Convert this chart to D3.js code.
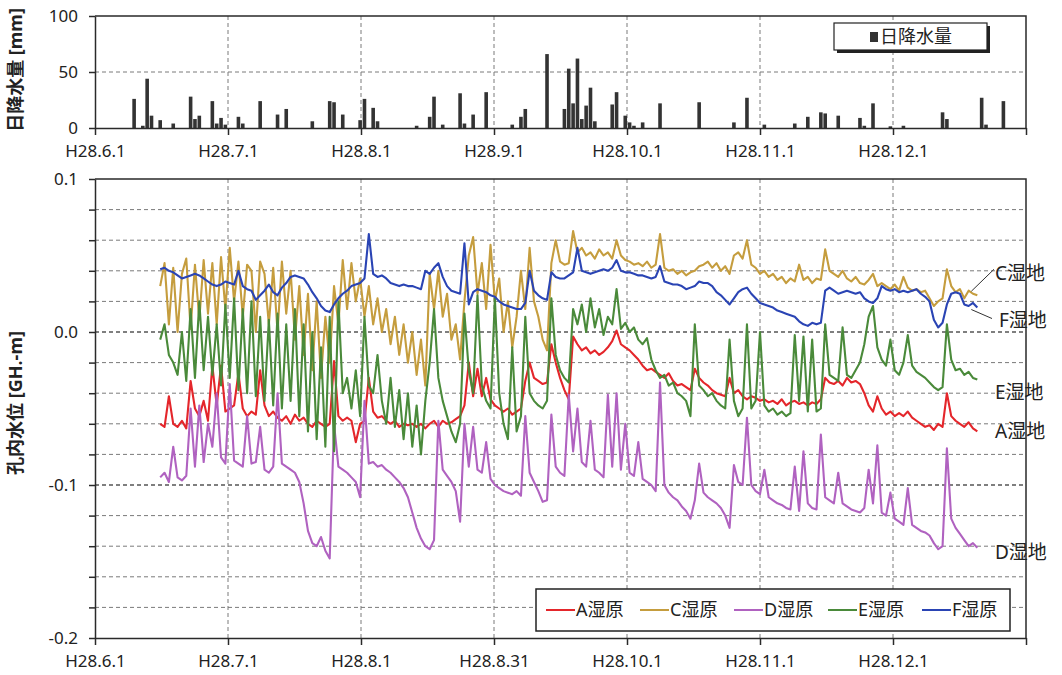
<!DOCTYPE html>
<html>
<head>
<meta charset="utf-8">
<script src="https://cdn.jsdelivr.net/npm/d3@7"></script>
<style>
body { margin: 0; background: #fff; }
text { font-family: "Noto Sans", "Noto Sans CJK JP", sans-serif; fill: #222; }
</style>
</head>
<body>
<svg id="chart" width="1062" height="675"></svg>
<script>
// 日降水量 [mm] (H28 = 2016)
const rainDates = ['6/10','6/12','6/13','6/14','6/16','6/19','6/23','6/24','6/25','6/28','6/29','6/30','7/1','7/4','7/5','7/9','7/13','7/15','7/21','7/25','7/26','7/28',
  '8/1','8/2','8/4','8/5','8/14','8/17','8/18','8/20','8/24','8/25','8/27','8/30','9/5','9/7','9/8','9/13','9/17','9/18','9/19','9/20','9/21','9/22','9/23','9/24','9/28','9/29',
  '10/1','10/2','10/3','10/5','10/9','10/18','10/26','10/29','11/2','11/9','11/12','11/15','11/16','11/19','11/24','11/25','11/27','12/1','12/4','12/13','12/14','12/22','12/23','12/27']
const rainMm = [26,2,44,11,7,4,28,8,11,24,4,9,3,10,4,24,12,17,6,24,23,12,
  7,26,18,6,2,10,28,3,31,4,12,32,3,10,17,66,17,53,22,62,8,20,36,6,21,32,
  11,5,2,5,22,23,5,27,3,4,10,14,13,11,9,2,22,1.5,2,14,8,27,3,24]

// 孔内水位 [mm, GH.-m x1000], daily from 6/16
const levelStart = '6/16'
const levelA = [-60,-62,-42,-60,-62,-58,-63,-32,-50,-55,
  -45,-58,-22,-48,-22,-52,-50,-48,-27,-50,
  -55,-52,-54,-25,-48,-55,-52,-56,-58,-55,
  -60,-54,-58,-56,-60,-62,-58,-60,-62,-60,
  -19,-55,-58,-56,-58,-72,-60,-58,-30,-52,
  -56,-55,-58,-60,-58,-62,-60,-61,-60,-62,
  -60,-63,
  -60,-58,-62,-58,-60,-59,-57,-55,-48,-20,
  -42,-24,-42,-30,-44,-48,-50,-52,-50,-54,
  -52,-50,-32,-20,-30,-32,-34,-33,-8,-20,
  -30,-38,-44,-3,-8,-12,-10,-14,-12,-15,
  -13,-10,-6,1,-8,-10,-12,-15,-18,-22,
  -25,-24,-26,-28,-30,-27,-32,-35,-34,-36,
  -38,-24,-30,-33,
  -35,-38,-40,-41,-42,-30,-40,-38,-42,-44,
  -42,-43,-45,-44,-46,-45,-47,-44,-48,-46,
  -45,-47,-46,-48,-46,-47,-44,-30,-33,-34,
  -32,-35,-30,-33,-32,-34,-40,-48,-52,-42,
  -50,-54,-52,-55,-53,-55,-52,-56,-58,-60,
  -62,-61,-64,-60,-62,-40,-55,-58,-60,-62,
  -59,-63,-65]
const levelC = [30,45,5,42,0,38,48,2,44,8,
  47,12,45,5,49,15,55,20,46,10,
  44,40,0,46,38,5,42,0,46,12,
  40,-5,30,-15,25,-25,20,-30,10,-20,
  30,5,47,15,45,20,35,10,30,5,
  22,0,15,-8,10,-15,5,-20,0,-28,
  -5,-35,
  38,15,40,10,25,-5,5,-18,20,50,
  62,25,45,15,57,20,35,0,20,-10,
  10,40,15,55,20,10,-5,-12,45,60,
  46,44,45,66,52,55,50,52,48,54,
  50,52,48,60,50,47,46,44,45,43,
  46,42,44,64,42,40,41,38,40,37,
  39,40,43,44,
  46,42,45,40,43,38,50,52,48,60,
  44,42,38,40,36,38,34,36,32,35,
  33,44,34,36,32,35,34,54,40,38,
  36,40,35,33,36,32,31,34,38,30,
  32,30,28,31,27,36,29,27,28,26,
  27,22,17,20,22,41,30,26,28,22,
  27,25,24]
const levelD = [-95,-92,-98,-75,-95,-97,-94,-50,-88,-48,
  -85,-60,-75,-40,-82,-86,-34,-84,-86,-88,
  -55,-86,-85,-62,-90,-92,-88,-40,-86,-88,
  -90,-92,-98,-112,-130,-138,-140,-134,-143,-148,
  -60,-88,-90,-92,-95,-98,-108,-45,-86,-85,
  -88,-87,-90,-92,-95,-98,-102,-108,-118,-128,
  -135,-140,
  -142,-136,-58,-90,-94,-98,-104,-124,-60,-88,
  -62,-90,-92,-72,-96,-100,-102,-104,-105,-106,
  -104,-107,-55,-92,-98,-104,-111,-110,-54,-88,
  -92,-94,-41,-78,-50,-85,-88,-58,-90,-92,
  -95,-41,-88,-40,-90,-60,-92,-94,-72,-96,
  -98,-100,-104,-33,-100,-105,-108,-110,-114,-117,
  -122,-110,-86,-105,
  -108,-110,-112,-115,-120,-128,-87,-98,-100,-56,
  -100,-104,-106,-90,-108,-110,-112,-113,-115,-116,
  -88,-117,-78,-112,-115,-116,-67,-108,-110,-112,
  -92,-112,-114,-116,-117,-118,-115,-90,-112,-74,
  -118,-120,-105,-122,-124,-126,-102,-126,-128,-130,
  -131,-133,-138,-142,-140,-76,-122,-128,-132,-136,
  -140,-138,-141]
const levelE = [-5,5,-15,-20,-28,0,-32,15,-30,20,
  -25,10,-28,5,-35,18,-30,22,-38,15,
  -40,20,-42,10,-45,8,-48,12,-50,5,
  -45,15,-55,5,-65,0,-70,-10,-75,10,
  -78,20,-40,-30,-50,-25,-55,10,-35,-40,
  -15,-45,-60,-30,-62,-38,-70,-40,-75,-48,
  -80,-45,
  -20,15,-30,-45,-55,-65,-72,-60,12,-25,
  -40,24,-35,-45,-50,22,-40,-60,-70,-10,
  -65,-55,10,-40,-45,-48,-50,-45,22,-15,
  -25,-30,-33,15,5,18,0,22,3,15,
  -2,10,5,28,2,6,0,3,-5,-8,
  -4,-18,-25,-30,-28,-35,-33,-40,-42,-45,
  -55,5,-35,-38,
  -42,-40,-45,-48,-50,-5,-45,-55,-50,5,
  -50,-45,0,-48,-52,-50,-54,-52,-55,-53,
  -2,-45,-3,-52,-5,-52,-50,5,-28,-30,
  -32,3,-28,-30,-25,-20,-8,10,17,-10,
  -18,-22,-5,-25,-28,-20,-2,-22,-26,-28,
  -30,-33,-36,-38,-36,5,-18,-25,-24,-28,
  -26,-30,-31]
const levelF = [41,42,40,39,37,35,36,37,38,37,
  35,33,31,30,31,33,32,31,40,30,
  28,27,21,24,27,31,26,24,29,32,
  36,37,36,35,31,26,22,17,14,13,
  18,22,25,27,30,31,32,35,64,38,
  36,37,35,32,31,30,31,30,30,29,
  28,40,
  38,42,45,36,30,27,26,25,58,18,
  26,28,27,26,24,23,20,18,17,16,
  15,15,19,40,27,24,22,21,39,36,
  35,35,37,39,55,40,39,38,39,40,
  41,40,42,47,40,39,39,38,37,37,
  36,35,36,43,33,32,31,31,30,28,
  29,30,33,32,
  32,30,26,24,21,18,22,26,28,29,
  25,22,19,18,17,16,14,13,12,11,
  10,7,5,4,6,5,6,27,29,27,
  25,26,27,26,25,26,22,20,19,22,
  30,28,27,28,26,27,26,27,28,25,
  23,20,8,3,6,18,25,26,25,18,
  17,19,16]

const legendNames = ['A湿原','C湿原','D湿原','E湿原','F湿原']
const endNames = ['A湿地','C湿地','D湿地','E湿地','F湿地']
const colors = ['#e4262b','#c59d3e','#b062c0','#4a8a3a','#2a44b4']
const xLabelsTop = ['H28.6.1','H28.7.1','H28.8.1','H28.9.1','H28.10.1','H28.11.1','H28.12.1']
const xLabelsMain = ['H28.6.1','H28.7.1','H28.8.1','H28.8.31','H28.10.1','H28.11.1','H28.12.1']
const yTicksRain = [0, 50, 100]
const yLabelsLevel = ['-0.2','-0.1','0.0','0.1']

const svg = d3.select('#chart')
const origin = new Date(2016, 5, 1)
const dayOf = s => { const [m, d] = s.split('/').map(Number); return d3.timeDay.count(origin, new Date(2016, m - 1, d)) }

// Excelっぽい日付軸：主目盛 30.6日間隔
const major = 30.6, xMax = 7 * major
const xTicks = d3.range(0, 7).map(k => k * major)
const left = 95, right = 1026

const x = d3.scaleLinear().domain([0, xMax]).range([left, right])
const yRain = d3.scaleLinear().domain([0, 100]).range([128, 16])
const yLev = d3.scaleLinear().domain([-0.2, 0.1]).range([638, 179])

const gridColor = '#7a7a7a', axisColor = '#2a2a2a'

// ---------- 上段：日降水量 ----------
const upper = svg.append('g')
upper.selectAll('.vg').data(xTicks.slice(1)).join('line')
	.attr('x1', d => x(d)).attr('x2', d => x(d)).attr('y1', yRain(100)).attr('y2', yRain(0))
	.attr('stroke', gridColor).attr('stroke-dasharray', '4,3')
upper.append('line').attr('x1', left).attr('x2', right).attr('y1', yRain(50)).attr('y2', yRain(50))
	.attr('stroke', gridColor).attr('stroke-dasharray', '4,3')

upper.selectAll('.bar').data(rainDates).join('rect')
	.attr('x', (d, i) => x(dayOf(d)) - 1.8).attr('width', 3.6)
	.attr('y', (d, i) => yRain(rainMm[i])).attr('height', (d, i) => yRain(0) - yRain(rainMm[i]))
	.attr('fill', '#333')

upper.append('path').attr('d', `M${left},${yRain(100)}H${right}V${yRain(0)}`)
	.attr('fill', 'none').attr('stroke', axisColor).attr('stroke-width', 1.5)

const gxTop = upper.append('g').attr('transform', `translate(0,${yRain(0)})`)
	.call(d3.axisBottom(x).tickValues(xTicks.concat([xMax])).tickSize(7).tickSizeOuter(0).tickPadding(10)
		.tickFormat((d, i) => xLabelsTop[i] || ''))
const gyTop = upper.append('g').attr('transform', `translate(${left},0)`)
	.call(d3.axisLeft(yRain).tickValues(yTicksRain).tickSize(6).tickSizeOuter(0).tickPadding(11))

// 凡例（上段）
const lg1 = upper.append('g').attr('transform', 'translate(834,23)')
lg1.append('rect').attr('x', 3).attr('y', 3).attr('width', 153).attr('height', 27).attr('fill', '#222')
lg1.append('rect').attr('width', 153).attr('height', 27).attr('fill', '#fff').attr('stroke', '#222').attr('stroke-width', 1.2)
lg1.append('rect').attr('x', 36).attr('y', 9).attr('width', 8).attr('height', 10).attr('fill', '#333')
lg1.append('text').attr('x', 46).attr('y', 19.5).attr('font-size', 18).text('日降水量')

// ---------- 下段：孔内水位 ----------
const lower = svg.append('g')
const yGrid = d3.range(-10, 6).map(k => k * 0.02)
const isMajor = d => Math.abs(Math.round(d * 10) - d * 10) < 1e-6
lower.selectAll('.hg').data(yGrid.slice(1, -1)).join('line')
	.attr('x1', left).attr('x2', right).attr('y1', d => yLev(d)).attr('y2', d => yLev(d))
	.attr('stroke', d => isMajor(d) ? '#555' : gridColor)
	.attr('stroke-width', d => isMajor(d) ? 1.4 : 1)
	.attr('stroke-dasharray', '4,3')
lower.selectAll('.vg').data(xTicks.slice(1)).join('line')
	.attr('x1', d => x(d)).attr('x2', d => x(d)).attr('y1', yLev(0.1)).attr('y2', yLev(-0.2))
	.attr('stroke', gridColor).attr('stroke-dasharray', '4,3')

const start = dayOf(levelStart)
const series = [levelA, levelC, levelD, levelE, levelF]
const line = d3.line().x((d, i) => x(start + i)).y(d => yLev(d / 1000))
lower.selectAll('.ser').data(series).join('path')
	.attr('d', d => line(d)).attr('fill', 'none')
	.attr('stroke', (d, i) => colors[i]).attr('stroke-width', 2.1).attr('stroke-linejoin', 'round')

lower.append('path').attr('d', `M${left},${yLev(0.1)}H${right}V${yLev(-0.2)}`)
	.attr('fill', 'none').attr('stroke', axisColor).attr('stroke-width', 1.5)

const gx = lower.append('g').attr('transform', `translate(0,${yLev(-0.2)})`)
	.call(d3.axisBottom(x).tickValues(xTicks.concat([xMax])).tickSize(7).tickSizeOuter(0).tickPadding(10)
		.tickFormat((d, i) => xLabelsMain[i] || ''))
const gy = lower.append('g').attr('transform', `translate(${left},0)`)
	.call(d3.axisLeft(yLev).tickValues(yGrid).tickSize(6).tickSizeOuter(0).tickPadding(11)
		.tickFormat(d => isMajor(d) ? yLabelsLevel[Math.round(d * 10) + 2] : ''))

for (const g of [gxTop, gyTop, gx, gy]) {
	g.select('.domain').attr('stroke', axisColor).attr('stroke-width', 1.5)
	g.selectAll('.tick line').attr('stroke', axisColor).attr('stroke-width', 1.5)
	g.selectAll('.tick text').attr('font-size', 17).attr('font-family', null).attr('fill', '#222')
}

// 系列末尾のラベル
const labelShift = { 'A湿地': 0, 'C湿地': -22, 'D湿地': 5, 'E湿地': 13, 'F湿地': 13 }
const lastDay = start + levelA.length - 1
endNames.forEach((name, i) => {
	const v = series[i][series[i].length - 1] / 1000
	const ly = yLev(v) + labelShift[name]
	lower.append('text').attr('x', name[0] === 'F' ? 999 : 995).attr('y', ly).attr('dy', '0.35em')
		.attr('font-size', 19).text(name)
	if (name[0] === 'C' || name[0] === 'F') {
		lower.append('line').attr('x1', x(lastDay) - 6).attr('y1', yLev(v) + (name[0] === 'C' ? -4 : 2))
			.attr('x2', name[0] === 'C' ? 994 : 992).attr('y2', ly + (name[0] === 'C' ? -4 : -2))
			.attr('stroke', '#333').attr('stroke-width', 1)
	}
})

// 凡例（下段）
const lg2 = lower.append('g').attr('transform', 'translate(536,589)')
lg2.append('rect').attr('width', 474).attr('height', 42).attr('fill', '#fff').attr('stroke', '#222').attr('stroke-width', 1.5)
legendNames.forEach((name, i) => {
	const g = lg2.append('g').attr('transform', `translate(${10 + i * 94},21)`)
	g.append('line').attr('x1', 0).attr('x2', 29).attr('stroke', colors[i]).attr('stroke-width', 2)
	g.append('text').attr('x', 30).attr('dy', '0.35em').attr('font-size', 18).text(name)
})

// 軸タイトル
svg.append('text').attr('transform', 'translate(22,70) rotate(-90)').attr('text-anchor', 'middle')
	.attr('font-size', 18).attr('font-weight', 'bold').text('日降水量 [mm]')
svg.append('text').attr('transform', 'translate(22,403) rotate(-90)').attr('text-anchor', 'middle')
	.attr('font-size', 18).attr('font-weight', 'bold').text('孔内水位 [GH.-m]')
</script>
</body>
</html>
